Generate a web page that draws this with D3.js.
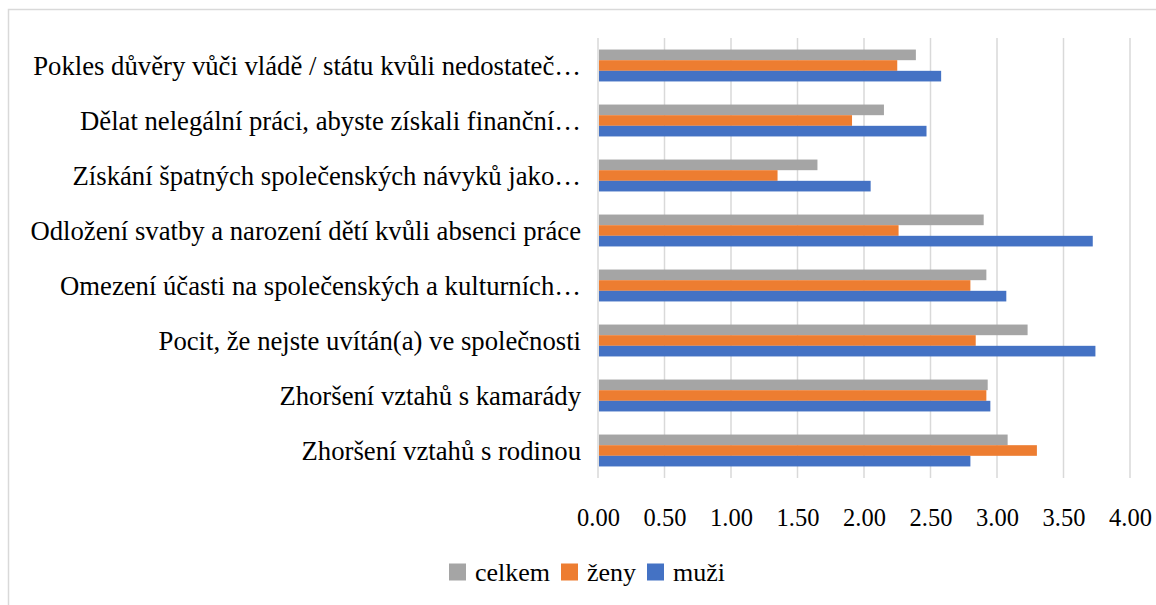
<!DOCTYPE html>
<html>
<head>
<meta charset="utf-8">
<script src="https://cdn.jsdelivr.net/npm/d3@7"></script>
<style>
  body { margin: 0; background: #fff; }
</style>
</head>
<body>
<script>
// DATA
var categories = [
  "Pokles důvěry vůči vládě / státu kvůli nedostateč…",
  "Dělat nelegální práci, abyste získali finanční…",
  "Získání špatných společenských návyků jako…",
  "Odložení svatby a narození dětí kvůli absenci práce",
  "Omezení účasti na společenských a kulturních…",
  "Pocit, že nejste uvítán(a) ve společnosti",
  "Zhoršení vztahů s kamarády",
  "Zhoršení vztahů s rodinou"
];
var seriesNames = ["celkem", "ženy", "muži"];
var celkem = [2.39, 2.15, 1.65, 2.90, 2.92, 3.23, 2.93, 3.08];
var zeny   = [2.25, 1.91, 1.35, 2.26, 2.80, 2.84, 2.92, 3.30];
var muzi   = [2.58, 2.47, 2.05, 3.72, 3.07, 3.74, 2.95, 2.80];
var xTicks = [0, 0.5, 1, 1.5, 2, 2.5, 3, 3.5, 4];

var colors = {"celkem": "#A5A5A5", "ženy": "#ED7D31", "muži": "#4472C4"};
var values = {"celkem": celkem, "ženy": zeny, "muži": muzi};
var serif = "'Liberation Serif'";

// SETUP
var width = 1156, height = 605,
    margin = {top: 38, right: 26, bottom: 127, left: 598};

var svg = d3.select("body").append("svg")
    .attr("width", width)
    .attr("height", height);

// chart frame (cropped: only left and top edges visible)
svg.append("path")
    .attr("d", "M8.5,605 V9.5 H1156")
    .attr("fill", "none")
    .attr("stroke", "#D9D9D9")
    .attr("stroke-width", 1.5);

var x = d3.scaleLinear().domain([0, 4]).range([margin.left, 1130]);

var y = d3.scaleBand()
    .domain(categories)
    .range([margin.top, height - margin.bottom])
    .paddingInner(0.42)
    .paddingOuter(0.21);

var ySub = d3.scaleBand()
    .domain(seriesNames)
    .range([0, y.bandwidth()]);

// gridlines
svg.append("g")
  .selectAll("line")
  .data(xTicks)
  .join("line")
    .attr("x1", d => x(d))
    .attr("x2", d => x(d))
    .attr("y1", margin.top)
    .attr("y2", height - margin.bottom)
    .attr("stroke", "#D9D9D9")
    .attr("stroke-width", 1.5);

// bars
var groups = svg.append("g")
  .selectAll("g")
  .data(categories)
  .join("g")
    .attr("transform", d => "translate(0," + y(d) + ")");

groups.selectAll("rect")
  .data((c, i) => seriesNames.map(s => ({s: s, v: values[s][i]})))
  .join("rect")
    .attr("x", x(0) + 1)
    .attr("y", d => ySub(d.s))
    .attr("width", d => x(d.v) - x(0) - 1)
    .attr("height", ySub.bandwidth())
    .attr("fill", d => colors[d.s]);

// category labels
svg.append("g")
  .selectAll("text")
  .data(categories)
  .join("text")
    .attr("x", 581)
    .attr("y", d => y(d) + y.bandwidth() / 2)
    .attr("dy", "0.35em")
    .attr("text-anchor", "end")
    .style("font-family", serif)
    .style("font-size", "26.7px")
    .style("fill", "#000")
    .text(d => d);

// x axis
var xAxis = d3.axisBottom(x)
    .tickValues(xTicks)
    .tickFormat(d3.format(".2f"))
    .tickSize(0)
    .tickPadding(0);

var gx = svg.append("g")
    .attr("transform", "translate(0,517)")
    .call(xAxis);
gx.select(".domain").remove();
gx.selectAll("text")
    .attr("dy", "0.35em")
    .style("font-family", serif)
    .style("font-size", "24.5px")
    .style("fill", "#000");

// legend
var legendX = [449, 561, 647];
var legend = svg.append("g")
  .selectAll("g")
  .data(seriesNames)
  .join("g")
    .attr("transform", (d, i) => "translate(" + legendX[i] + ",572)");

legend.append("rect")
    .attr("x", 0)
    .attr("y", -8.5)
    .attr("width", 17)
    .attr("height", 17)
    .attr("fill", d => colors[d]);

legend.append("text")
    .attr("x", 26)
    .attr("dy", "0.33em")
    .style("font-family", serif)
    .style("font-size", "26px")
    .style("fill", "#000")
    .text(d => d);
</script>
</body>
</html>
